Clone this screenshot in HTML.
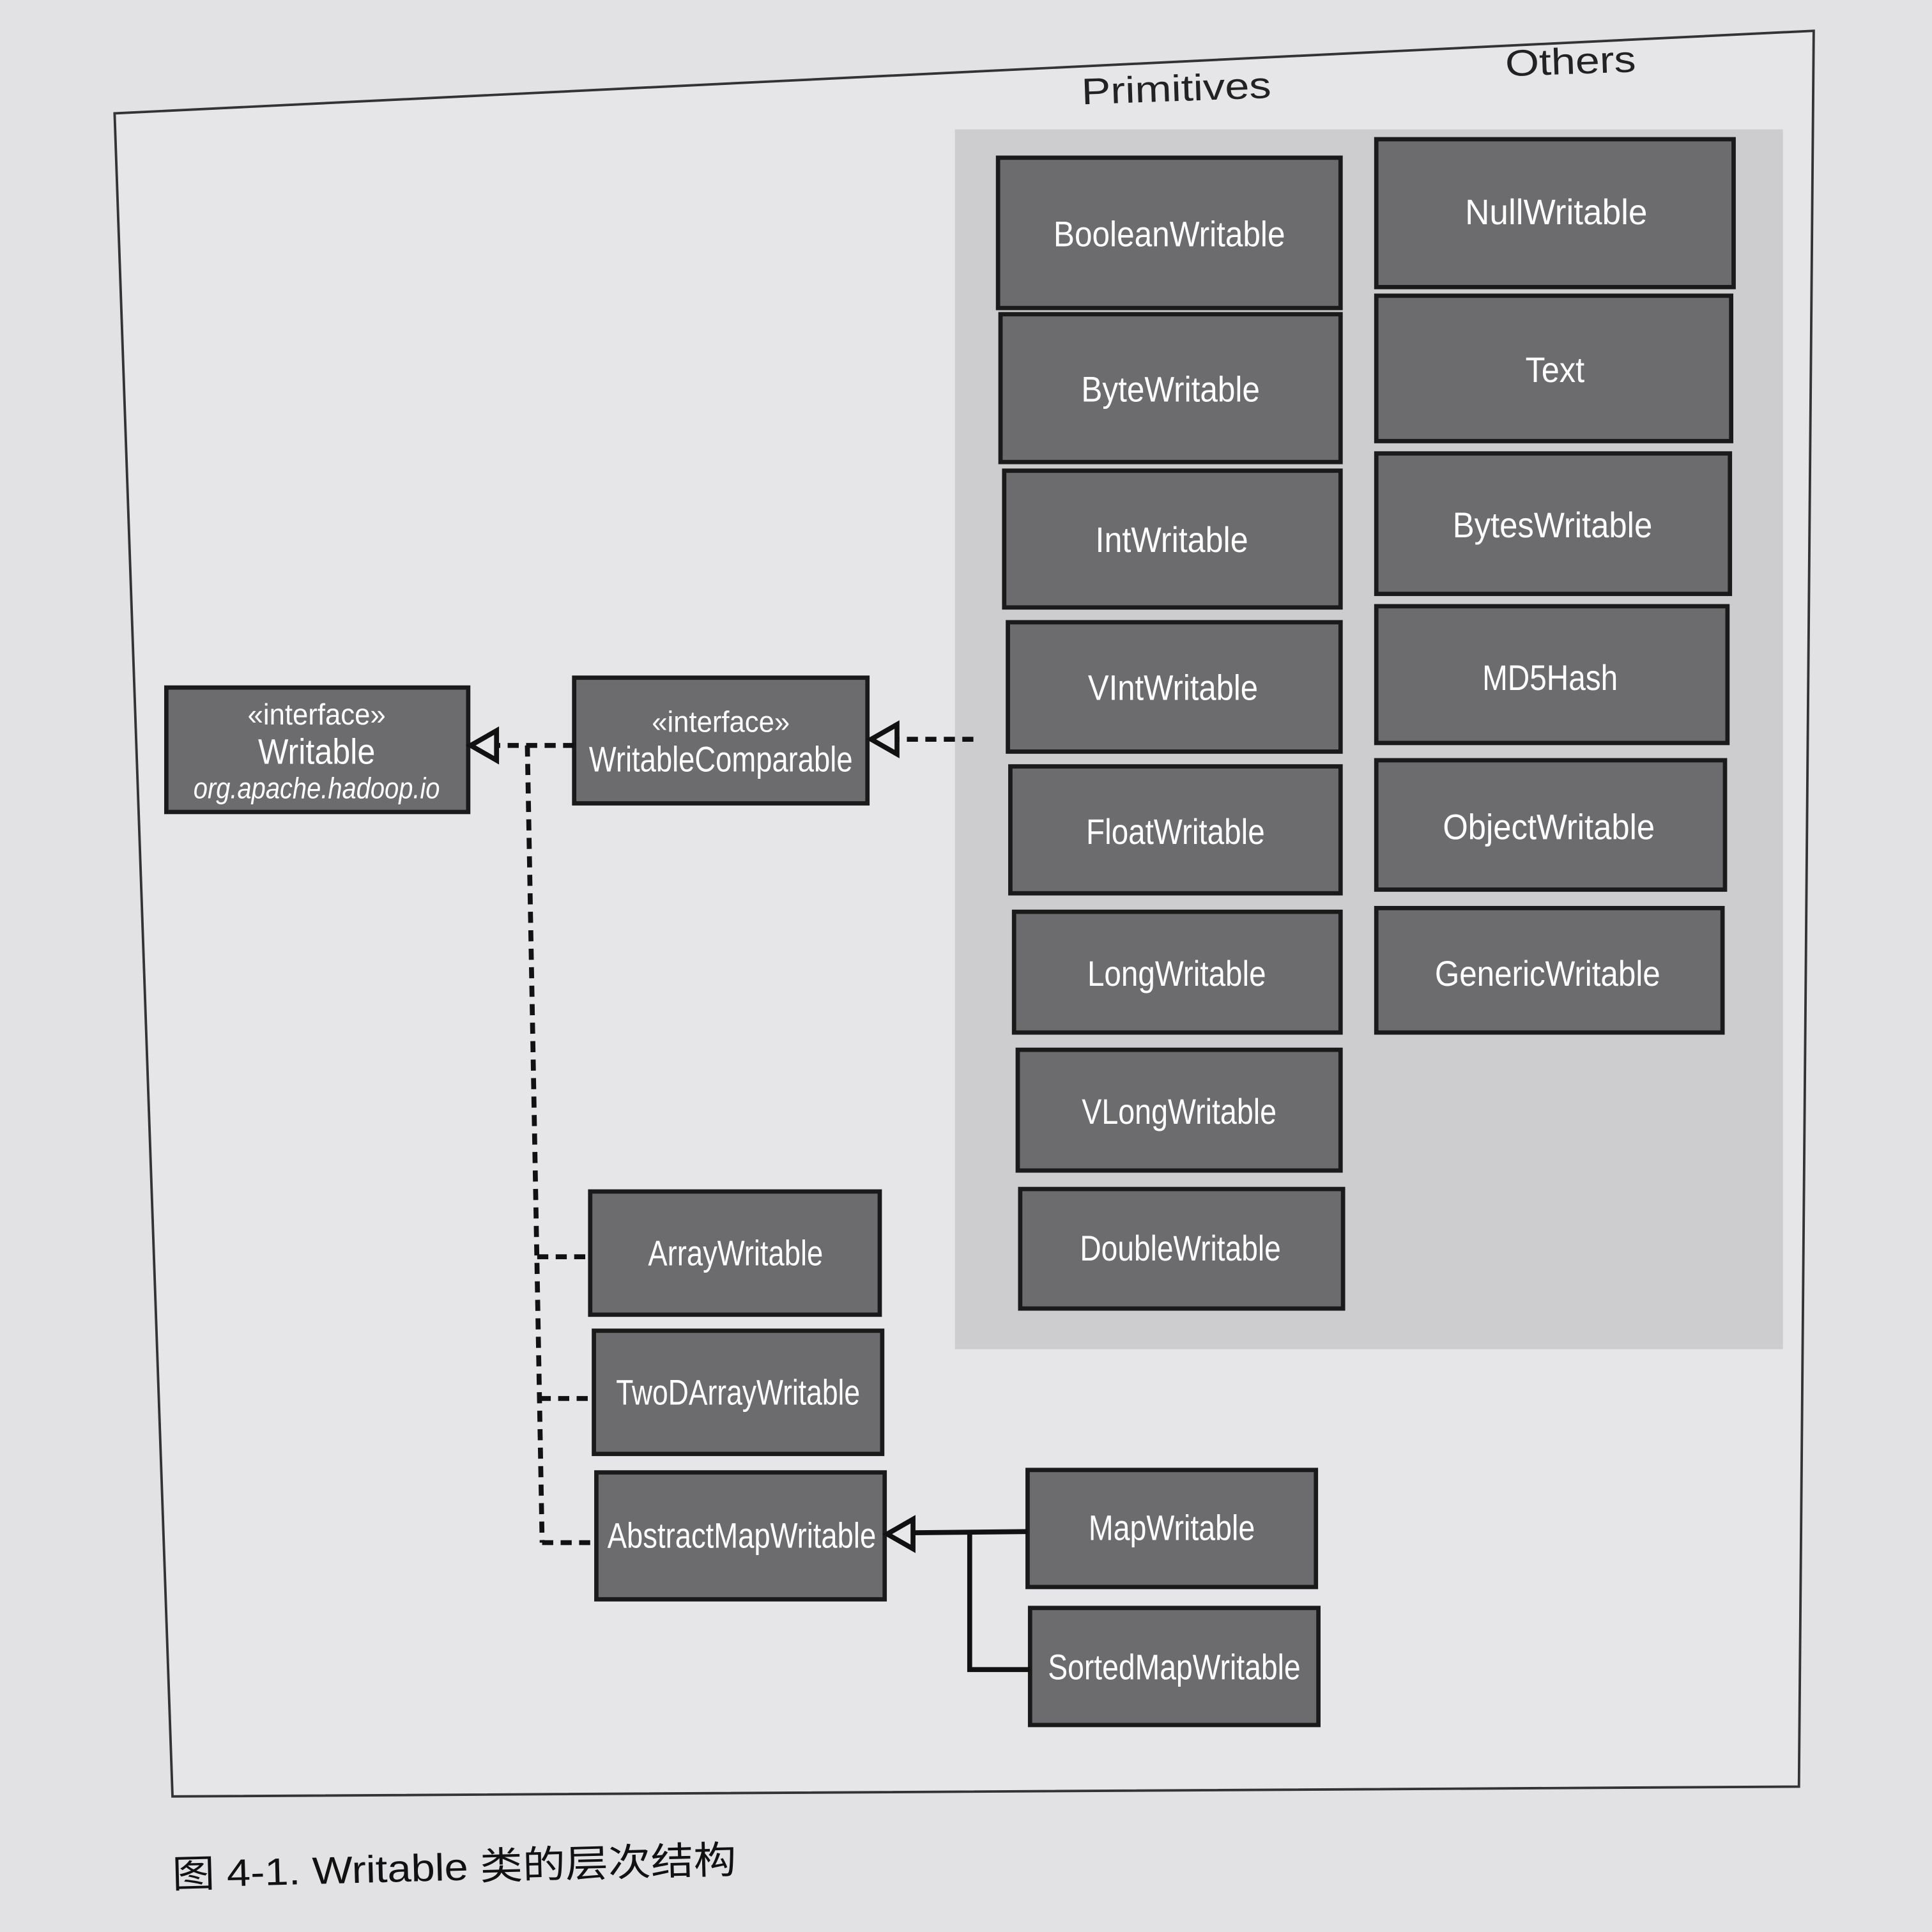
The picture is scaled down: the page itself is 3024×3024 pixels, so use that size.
<!DOCTYPE html>
<html><head><meta charset="utf-8"><style>
html,body{margin:0;padding:0;background:#e2e1e4;}
svg{display:block;}
.b{fill:#6c6c6e;stroke:#1a1a1a;stroke-width:3.5;}
.t{fill:#fff;font-family:"Liberation Sans",sans-serif;font-size:29px;text-anchor:middle;}
.s{fill:#fff;font-family:"Liberation Sans",sans-serif;font-size:24px;text-anchor:middle;}
.d{stroke:#111;stroke-width:4;stroke-dasharray:9,6;fill:none;}
.l{stroke:#111;stroke-width:4;fill:none;}
.a{fill:#e8e8ea;stroke:#111;stroke-width:4;}
</style></head><body>
<svg width="3024" height="3024" viewBox="0 0 1568 1568" xmlns="http://www.w3.org/2000/svg">
<rect width="1568" height="1568" fill="#e2e1e4"/>
<polygon points="93,92 1472,25 1460,1450 140,1458" fill="#e6e5e8" stroke="#333" stroke-width="2"/>
<rect x="775" y="105" width="672" height="990" fill="#cdcdd0"/>
<text x="955" y="82" font-family="Liberation Sans,sans-serif" font-size="30" text-anchor="middle" fill="#222" transform="rotate(-2 955 82)" textLength="154" lengthAdjust="spacingAndGlyphs">Primitives</text>
<text x="1275" y="60" font-family="Liberation Sans,sans-serif" font-size="30" text-anchor="middle" fill="#222" transform="rotate(-2 1275 60)" textLength="106" lengthAdjust="spacingAndGlyphs">Others</text>

<g lengthAdjust="spacingAndGlyphs">
<rect class="b" x="810" y="128" width="278" height="122"/><text class="t" x="949" y="200" textLength="188" lengthAdjust="spacingAndGlyphs">BooleanWritable</text>
<rect class="b" x="812" y="255" width="276" height="120"/><text class="t" x="950" y="326" textLength="145" lengthAdjust="spacingAndGlyphs">ByteWritable</text>
<rect class="b" x="815" y="382" width="273" height="111"/><text class="t" x="951" y="448" textLength="124" lengthAdjust="spacingAndGlyphs">IntWritable</text>
<rect class="b" x="818" y="505" width="270" height="105"/><text class="t" x="952" y="568" textLength="138" lengthAdjust="spacingAndGlyphs">VIntWritable</text>
<rect class="b" x="820" y="622" width="268" height="103"/><text class="t" x="954" y="685" textLength="145" lengthAdjust="spacingAndGlyphs">FloatWritable</text>
<rect class="b" x="823" y="740" width="265" height="98"/><text class="t" x="955" y="800" textLength="145" lengthAdjust="spacingAndGlyphs">LongWritable</text>
<rect class="b" x="826" y="852" width="262" height="98"/><text class="t" x="957" y="912" textLength="158" lengthAdjust="spacingAndGlyphs">VLongWritable</text>
<rect class="b" x="828" y="965" width="262" height="97"/><text class="t" x="958" y="1023" textLength="163" lengthAdjust="spacingAndGlyphs">DoubleWritable</text>

<rect class="b" x="1117" y="113" width="290" height="120"/><text class="t" x="1263" y="182" textLength="148" lengthAdjust="spacingAndGlyphs">NullWritable</text>
<rect class="b" x="1117" y="240" width="288" height="118"/><text class="t" x="1262" y="310" textLength="48" lengthAdjust="spacingAndGlyphs">Text</text>
<rect class="b" x="1117" y="368" width="287" height="114"/><text class="t" x="1260" y="436" textLength="162" lengthAdjust="spacingAndGlyphs">BytesWritable</text>
<rect class="b" x="1117" y="492" width="285" height="111"/><text class="t" x="1258" y="560" textLength="110" lengthAdjust="spacingAndGlyphs">MD5Hash</text>
<rect class="b" x="1117" y="617" width="283" height="105"/><text class="t" x="1257" y="681" textLength="172" lengthAdjust="spacingAndGlyphs">ObjectWritable</text>
<rect class="b" x="1117" y="737" width="281" height="101"/><text class="t" x="1256" y="800" textLength="183" lengthAdjust="spacingAndGlyphs">GenericWritable</text>

<rect class="b" x="135" y="558" width="245" height="101"/>
<text class="s" x="257" y="588" textLength="112" lengthAdjust="spacingAndGlyphs">«interface»</text>
<text class="t" x="257" y="620" textLength="95" lengthAdjust="spacingAndGlyphs">Writable</text>
<text class="s" x="257" y="648" font-style="italic" textLength="200" lengthAdjust="spacingAndGlyphs">org.apache.hadoop.io</text>
<rect class="b" x="466" y="550" width="238" height="102"/>
<text class="s" x="585" y="594" textLength="112" lengthAdjust="spacingAndGlyphs">«interface»</text>
<text class="t" x="585" y="626" textLength="214" lengthAdjust="spacingAndGlyphs">WritableComparable</text>

<rect class="b" x="479" y="967" width="235" height="100"/><text class="t" x="597" y="1027" textLength="142" lengthAdjust="spacingAndGlyphs">ArrayWritable</text>
<rect class="b" x="482" y="1080" width="234" height="100"/><text class="t" x="599" y="1140" textLength="198" lengthAdjust="spacingAndGlyphs">TwoDArrayWritable</text>
<rect class="b" x="484" y="1195" width="234" height="103"/><text class="t" x="602" y="1256" textLength="218" lengthAdjust="spacingAndGlyphs">AbstractMapWritable</text>
<rect class="b" x="834" y="1193" width="234" height="95"/><text class="t" x="951" y="1250" textLength="135" lengthAdjust="spacingAndGlyphs">MapWritable</text>
<rect class="b" x="836" y="1305" width="234" height="95"/><text class="t" x="953" y="1363" textLength="205" lengthAdjust="spacingAndGlyphs">SortedMapWritable</text>
</g>

<line class="d" x1="466" y1="605" x2="402" y2="605"/>
<polygon class="a" points="382,605 403,593 403,617"/>
<line class="d" x1="428" y1="605" x2="440" y2="1252"/>
<line class="d" x1="436" y1="1020" x2="479" y2="1020"/>
<line class="d" x1="438" y1="1135" x2="482" y2="1135"/>
<line class="d" x1="440" y1="1252" x2="484" y2="1252"/>
<line class="d" x1="790" y1="600" x2="728" y2="600"/>
<polygon class="a" points="707,600 728,588 728,612"/>
<line class="l" x1="834" y1="1243" x2="740" y2="1244"/>
<polygon class="a" points="720,1245 741,1233 741,1257"/>
<polyline class="l" points="787,1244 787,1355 836,1355"/>

<text x="140" y="1532" font-family="Liberation Sans,'Noto Sans CJK SC',sans-serif" font-size="31" fill="#111" transform="rotate(-1.5 140 1532)" textLength="458" lengthAdjust="spacingAndGlyphs">图 4-1. Writable 类的层次结构</text>
</svg>
</body></html>
